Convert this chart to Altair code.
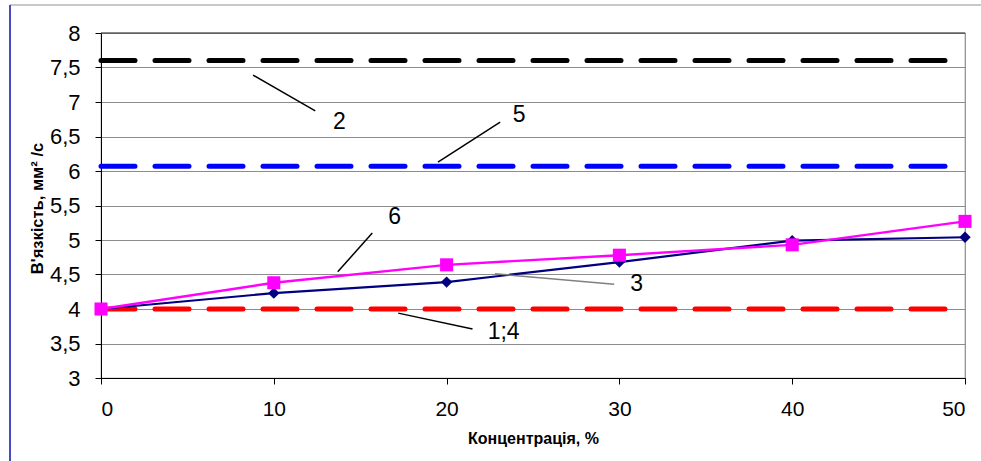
import altair as alt
import pandas as pd

# ---- data ----
conc = [0, 10, 20, 30, 40, 50]
series3 = [4.0, 4.23, 4.39, 4.68, 4.99, 5.04]
series6 = [4.0, 4.38, 4.64, 4.78, 4.93, 5.27]

const_names = ["2", "5", "1;4"]
const_values = [7.6, 6.07, 4.0]
const_colors = ["#000000", "#0000FF", "#FF0000"]

x_ticks = [0, 10, 20, 30, 40, 50]
y_ticks = [3, 3.5, 4, 4.5, 5, 5.5, 6, 6.5, 7, 7.5, 8]

# annotation leader lines (data coords) and labels
ann_labels = ["2", "5", "6", "3", "1;4"]
ann_x1 = [8.8, 19.5, 13.7, 22.8, 17.2]
ann_y1 = [7.39, 6.13, 4.54, 4.51, 3.94]
ann_x2 = [12.4, 23.1, 15.7, 29.7, 21.5]
ann_y2 = [6.87, 6.71, 5.10, 4.36, 3.71]
ann_lx = [13.8, 24.2, 17.0, 31.0, 23.3]
ann_ly = [6.71, 6.81, 5.33, 4.36, 3.66]
ann_colors = ["#000000", "#000000", "#000000", "#808080", "#000000"]

FONT = "Liberation Sans"

df3 = pd.DataFrame({"x": conc, "y": series3})
df6 = pd.DataFrame({"x": conc, "y": series6})
rows = []
for n, v, c in zip(const_names, const_values, const_colors):
    rows.append({"name": n, "x": conc[0], "y": v, "c": c})
    rows.append({"name": n, "x": conc[-1], "y": v, "c": c})
dfc = pd.DataFrame(rows)
dfa = pd.DataFrame({"label": ann_labels, "x1": ann_x1, "y1": ann_y1,
                    "x2": ann_x2, "y2": ann_y2, "lx": ann_lx, "ly": ann_ly,
                    "c": ann_colors})

xs = alt.Scale(domain=[0, 50], nice=False, zero=False)
ys = alt.Scale(domain=[3, 8], nice=False, zero=False)

xax = alt.Axis(values=x_ticks, title="Концентрація, %", grid=False,
               labelFont=FONT, labelFontSize=21, labelColor="#000", labelPadding=14,
               labelOverlap=False,
               tickColor="#000", tickSize=6, domainColor="#000",
               titleFont=FONT, titleFontSize=16, titleFontWeight="bold", titleColor="#000",
               titleY=52, titleBaseline="top")
yax = alt.Axis(values=y_ticks,
               labelExpr="replace(format(datum.value, '~g'), '.', ',')",
               labelOverlap=False,
               title="В'язкість, мм² /с", grid=True, gridColor="#8c8c8c", gridWidth=1.2,
               labelFont=FONT, labelFontSize=22, labelColor="#000", labelPadding=15,
               tickColor="#000", tickSize=6, domainColor="#000",
               titleFont=FONT, titleFontSize=16.5, titleFontWeight="bold", titleColor="#000",
               titleX=-64, titleY=175, titleAngle=-90, titleAlign="center",
               titleBaseline="middle")

X = lambda f: alt.X(f, scale=xs, axis=xax)
Y = lambda f: alt.Y(f, scale=ys, axis=yax)

top_rule = alt.Chart(pd.DataFrame({"y": [8]})).mark_rule(color="#333", strokeWidth=1.2).encode(
    y=Y("y:Q"))

const_lines = alt.Chart(dfc).mark_line(strokeWidth=5, strokeDash=[34, 20], strokeCap="round").encode(
    x=X("x:Q"), y=Y("y:Q"),
    color=alt.Color("c:N", scale=None), detail="name:N")

l3 = alt.Chart(df3).mark_line(color="#000080", strokeWidth=2.2).encode(x=X("x:Q"), y=Y("y:Q"))
p3 = alt.Chart(df3).mark_point(shape="diamond", filled=True, color="#000080", size=130, opacity=1).encode(
    x=X("x:Q"), y=Y("y:Q"))
l6 = alt.Chart(df6).mark_line(color="#FF00FF", strokeWidth=2.4).encode(x=X("x:Q"), y=Y("y:Q"))
p6 = alt.Chart(df6).mark_point(shape="square", filled=True, color="#FF00FF", size=170, opacity=1).encode(
    x=X("x:Q"), y=Y("y:Q"))

ann_lines = alt.Chart(dfa).mark_rule(strokeWidth=1.5).encode(
    x=X("x1:Q"), y=Y("y1:Q"),
    x2="x2:Q", y2="y2:Q", color=alt.Color("c:N", scale=None))
ann_text = alt.Chart(dfa).mark_text(font=FONT, fontSize=23, color="#000",
                                    align="center", baseline="middle").encode(
    x=X("lx:Q"), y=Y("ly:Q"), text="label:N")

frame_top = alt.Chart(pd.DataFrame({"a": [0]})).mark_rule(color="#c8c8c8", strokeWidth=2).encode(
    x=alt.value(-91), x2=alt.value(880), y=alt.value(-28))
frame_left = alt.Chart(pd.DataFrame({"a": [0]})).mark_rule(color="#4848c8", strokeWidth=2).encode(
    x=alt.value(-91), y=alt.value(-28), y2=alt.value(440))

chart = alt.layer(top_rule, const_lines, l3, p3, l6, p6, ann_lines, ann_text,
                  frame_top, frame_left).properties(
    width=864, height=345,
    autosize=alt.AutoSizeParams(type="none"),
    padding={"left": 101, "top": 33, "right": 16, "bottom": 83},
    background="white",
).configure_view(stroke="#8c8c8c", strokeWidth=1.2)

chart.save("out.html", embed_options={"renderer": "svg", "actions": False})
